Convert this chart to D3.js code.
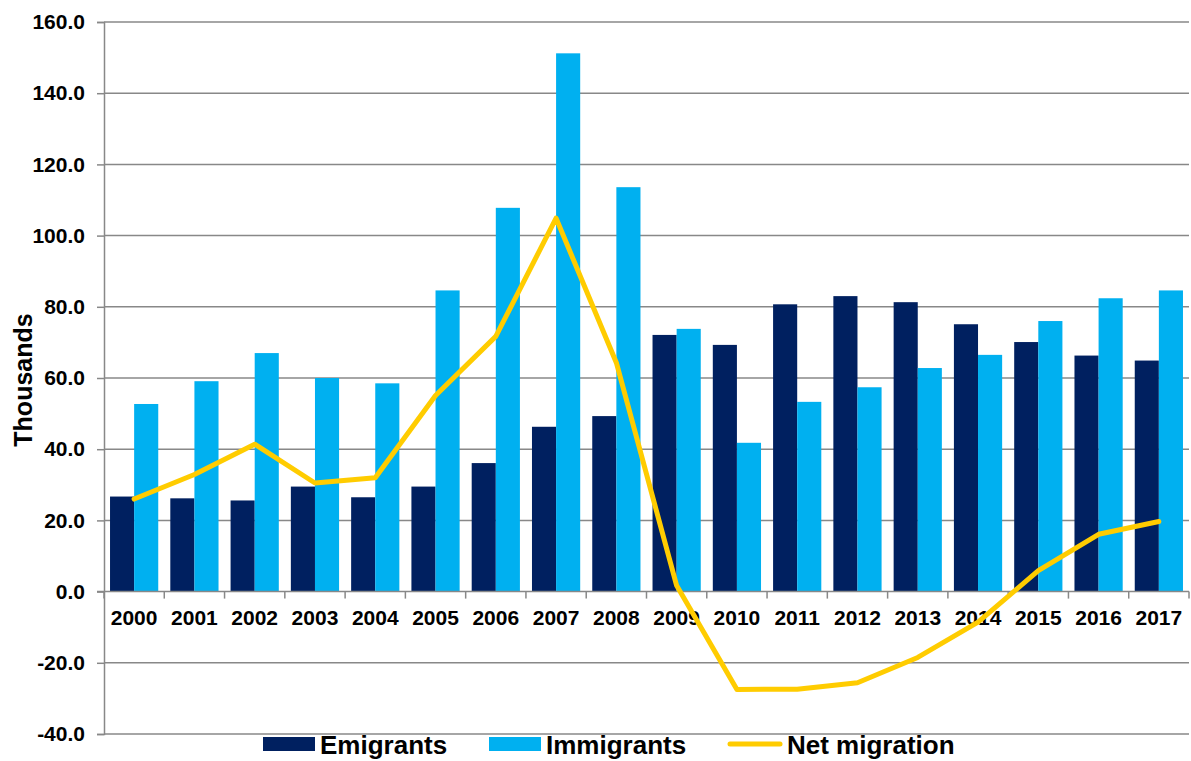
<!DOCTYPE html>
<html>
<head>
<meta charset="utf-8">
<script src="https://cdn.jsdelivr.net/npm/d3@7"></script>
<style>
  body { margin: 0; background: #fff; }
  text { font-family: "Liberation Sans", Arial, sans-serif; font-weight: bold; fill: #000; }
</style>
</head>
<body>
<div id="chart"></div>
<script>
const years = ["2000","2001","2002","2003","2004","2005","2006","2007","2008",
               "2009","2010","2011","2012","2013","2014","2015","2016","2017"];
const emigrants = [26.7, 26.2, 25.6, 29.5, 26.5, 29.5, 36.1, 46.3, 49.3,
                   72.1, 69.3, 80.7, 83.0, 81.3, 75.1, 70.1, 66.3, 64.9];
const immigrants = [52.7, 59.1, 67.0, 60.0, 58.5, 84.6, 107.8, 151.2, 113.6,
                    73.8, 41.8, 53.3, 57.4, 62.8, 66.5, 76.0, 82.4, 84.6];
const netMigration = [26.0, 32.9, 41.4, 30.5, 32.0, 55.1, 71.7, 104.9, 64.3,
                      1.7, -27.5, -27.4, -25.6, -18.5, -8.6, 5.9, 16.1, 19.7];
const yTicks = [-40, -20, 0, 20, 40, 60, 80, 100, 120, 140, 160];
const seriesNames = ["Emigrants", "Immigrants", "Net migration"];

const width = 1191;
const height = 761;
const marginTop = 22;
const marginRight = 2;
const marginBottom = 27;
const marginLeft = 104;

const colEmi = "#002060";
const colImm = "#00B0F0";
const colNet = "#FFCC00";
const gridCol = "#888888";

const svg = d3.select("#chart").append("svg")
    .attr("width", width)
    .attr("height", height);

const x = d3.scaleBand()
    .domain(years)
    .range([marginLeft, width - marginRight])
    .paddingInner(0.2)
    .paddingOuter(0.1);

const inner = d3.scaleBand()
    .domain(["emi", "imm"])
    .range([0, x.bandwidth()]);

const y = d3.scaleLinear()
    .domain([-40, 160])
    .range([height - marginBottom, marginTop]);

// plain hyphen for negatives, like the original
const fmt = d => d.toFixed(1);

// gridlines + left axis
svg.append("g")
    .attr("transform", `translate(${marginLeft},0)`)
    .call(d3.axisLeft(y)
        .tickValues(yTicks)
        .tickSize(7)
        .tickFormat(fmt))
    .call(g => g.select(".domain").attr("stroke", gridCol).attr("stroke-width", 1.5))
    .call(g => g.selectAll(".tick line").attr("stroke", gridCol).attr("stroke-width", 1.5))
    .call(g => g.selectAll(".tick text")
        .attr("x", -19)
        .attr("font-size", 21)
        .attr("font-family", "Liberation Sans, Arial, sans-serif")
        .attr("font-weight", "bold")
        .attr("fill", "#000"));

svg.append("g")
    .selectAll("line")
    .data(yTicks.filter(d => d !== 0))
    .join("line")
    .attr("x1", marginLeft)
    .attr("x2", width - marginRight)
    .attr("y1", d => y(d))
    .attr("y2", d => y(d))
    .attr("stroke", gridCol)
    .attr("stroke-width", 1.5);

// bars
const groups = svg.append("g")
    .selectAll("g")
    .data(years)
    .join("g")
    .attr("transform", d => `translate(${x(d)},0)`);

groups.append("rect")
    .attr("x", inner("emi"))
    .attr("width", inner.bandwidth())
    .attr("y", (d, i) => y(emigrants[i]))
    .attr("height", (d, i) => y(0) - y(emigrants[i]))
    .attr("fill", colEmi);

groups.append("rect")
    .attr("x", inner("imm"))
    .attr("width", inner.bandwidth())
    .attr("y", (d, i) => y(immigrants[i]))
    .attr("height", (d, i) => y(0) - y(immigrants[i]))
    .attr("fill", colImm);

// category axis at zero
const step = x.step();
const boundaries = d3.range(years.length + 1).map(i => marginLeft + i * step);

svg.append("line")
    .attr("x1", marginLeft - 7)
    .attr("x2", width - marginRight)
    .attr("y1", y(0))
    .attr("y2", y(0))
    .attr("stroke", gridCol)
    .attr("stroke-width", 1.5);

svg.append("g")
    .selectAll("line")
    .data(boundaries)
    .join("line")
    .attr("x1", d => d)
    .attr("x2", d => d)
    .attr("y1", y(0))
    .attr("y2", y(0) + 7)
    .attr("stroke", gridCol)
    .attr("stroke-width", 1.5);

svg.append("g")
    .selectAll("text")
    .data(years)
    .join("text")
    .attr("x", d => x(d) + x.bandwidth() / 2)
    .attr("y", y(0) + 33)
    .attr("text-anchor", "middle")
    .attr("font-size", 21)
    .text(d => d);

// net migration line
const line = d3.line()
    .x((d, i) => x(years[i]) + x.bandwidth() / 2)
    .y(d => y(d));

svg.append("path")
    .datum(netMigration)
    .attr("fill", "none")
    .attr("stroke", colNet)
    .attr("stroke-width", 5)
    .attr("stroke-linejoin", "round")
    .attr("stroke-linecap", "round")
    .attr("d", line);

// y axis title
svg.append("text")
    .attr("transform", `translate(32,${(y(80) + y(40)) / 2 + 2}) rotate(-90)`)
    .attr("text-anchor", "middle")
    .attr("font-size", 25)
    .text("Thousands");

// legend
const legend = svg.append("g").attr("transform", "translate(0,744)");

legend.append("rect").attr("x", 263).attr("y", -7).attr("width", 52).attr("height", 14).attr("fill", colEmi);
legend.append("text").attr("x", 320).attr("y", 9.5).attr("font-size", 26).text(seriesNames[0]);

legend.append("rect").attr("x", 489).attr("y", -7).attr("width", 52).attr("height", 14).attr("fill", colImm);
legend.append("text").attr("x", 546).attr("y", 9.5).attr("font-size", 26).text(seriesNames[1]);

legend.append("line").attr("x1", 730).attr("x2", 780).attr("y1", 0).attr("y2", 0)
    .attr("stroke", colNet).attr("stroke-width", 5).attr("stroke-linecap", "round");
legend.append("text").attr("x", 787).attr("y", 9.5).attr("font-size", 26).text(seriesNames[2]);
</script>
</body>
</html>
